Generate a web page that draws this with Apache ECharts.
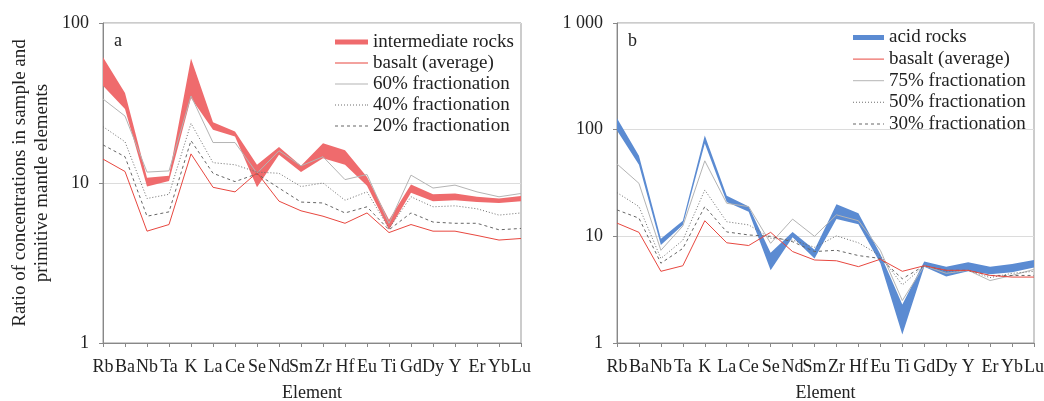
<!DOCTYPE html>
<html>
<head>
<meta charset="utf-8">
<script src="https://cdn.jsdelivr.net/npm/echarts@6.0.0/dist/echarts.min.js"></script>
<style>
html,body{margin:0;padding:0;background:#fff;}
#chart{width:1044px;height:401px;}
</style>
</head>
<body>
<div id="chart"></div>
<script>
// ---------- data ----------
const elements = ['Rb','Ba','Nb','Ta','K','La','Ce','Se','Nd','Sm','Zr','Hf','Eu','Ti','Gd','Dy','Y','Er','Yb','Lu'];

// panel a
const intermediateUpper = [61, 36.5, 10.8, 11.1, 60, 24, 21, 13, 16.8, 12.8, 17.7, 16, 10.9, 5.9, 9.8, 8.5, 8.6, 8.2, 8.0, 8.3];
const intermediateLower = [40.5, 29, 9.5, 10.3, 34, 21.5, 19.5, 9.4, 15, 11.7, 14.3, 13, 9.6, 5.1, 8.7, 7.7, 7.8, 7.6, 7.5, 7.7];
const basaltA = [14.1, 11.8, 5.0, 5.5, 15.2, 9.4, 8.8, 11.6, 7.7, 6.7, 6.2, 5.6, 6.5, 4.9, 5.5, 5.0, 5.0, 4.7, 4.4, 4.5];
const frac60 = [33.5, 26.2, 11.7, 11.9, 35, 17.9, 17.9, 11.5, 15.9, 12.8, 14.6, 10.5, 11.3, 5.6, 11.2, 9.3, 9.7, 8.8, 8.2, 8.6];
const frac40 = [22.5, 18.1, 8.0, 8.5, 23.6, 13.4, 13.0, 11.7, 11.5, 9.5, 10.0, 7.8, 8.8, 5.2, 8.2, 7.1, 7.2, 6.9, 6.3, 6.5];
const frac20 = [17.3, 14.6, 6.2, 6.6, 18.4, 11.5, 10.2, 11.4, 9.3, 7.6, 7.5, 6.5, 7.1, 5.1, 6.5, 5.7, 5.6, 5.6, 5.1, 5.2];

// panel b
const acidUpper = [128, 57, 9.5, 14, 88, 24, 19, 7, 11, 7.5, 20, 16.5, 6.8, 2.3, 5.8, 5.2, 5.7, 5.2, 5.5, 6.0];
const acidLower = [98, 47, 8.3, 12.8, 74, 21, 17, 4.8, 9.8, 6.2, 14.5, 13, 5.6, 1.2, 5.2, 4.2, 4.7, 4.4, 4.6, 5.1];
const basaltB = [13.3, 10.9, 4.7, 5.3, 14, 8.7, 8.2, 10.9, 7.2, 6.0, 5.9, 5.2, 6.1, 4.7, 5.3, 4.8, 4.8, 4.3, 4.15, 4.15];
const frac75 = [47.7, 31.4, 7.4, 12.5, 51, 20.4, 19, 8.6, 14.5, 10, 15.9, 14, 7.4, 2.5, 5.3, 4.5, 4.8, 3.85, 4.3, 4.9];
const frac50 = [25.7, 19, 6.2, 9.2, 27.2, 13.7, 12.8, 9.6, 9.2, 7.9, 10.1, 8.7, 6.6, 3.5, 5.3, 4.7, 4.8, 4.1, 4.5, 4.7];
const frac30 = [17.7, 14.8, 5.6, 7.7, 19, 11, 10.3, 10, 8.9, 7.2, 7.4, 6.6, 6.2, 4.0, 5.3, 4.8, 4.8, 4.3, 4.3, 4.3];

// ---------- styles ----------
const FONT = 'Liberation Serif';
const TXT = '#222';
const RED_BAND = '#ef6b6d';
const BLUE_BAND = '#5b8bd2';
const RED_LINE = '#e8473f';
const GRAY_SOLID = '#b4b4b4';
const GRAY_DOT = '#6e6e6e';
const GRAY_DASH = '#666666';
const AXIS = '#888';
const sGray = () => ({ color: GRAY_SOLID, type: 'solid', width: 1 });
const sDot = () => ({ color: GRAY_DOT, type: [1, 2], width: 1 });
const sDash = () => ({ color: GRAY_DASH, type: [3, 3], width: 1 });
const sBasalt = () => ({ color: RED_LINE, type: 'solid', width: 1 });

// legend icon paths (a horizontal stroke of given width/thickness, optionally dashed)
function iconPath(w, h, on, off) {
  let d = '';
  if (!on) {
    d = 'M0,0H' + w + 'V' + h + 'H0Z';
  } else {
    let x = 0;
    while (x < w) {
      const e = Math.min(x + on, w);
      d += 'M' + x + ',0H' + e + 'V' + h + 'H' + x + 'Z';
      x += on + off;
    }
    if (x - off < w) d += 'M' + (w - 1) + ',0H' + w + 'V' + h + 'H' + (w - 1) + 'Z';
  }
  return 'path://' + d;
}
function legItem(name, w, color, h, on, off) {
  return { name: name, icon: iconPath(w, h, on, off), itemStyle: { color: color, opacity: 1, borderWidth: 0 } };
}

function bandRender(upper, lower, color) {
  return function (params, api) {
    if (params.dataIndex !== 0) return null;
    const pts = [];
    for (let i = 0; i < upper.length; i++) pts.push(api.coord([i, upper[i]]));
    for (let i = lower.length - 1; i >= 0; i--) pts.push(api.coord([i, lower[i]]));
    return { type: 'polygon', shape: { points: pts }, style: { fill: color, stroke: null } };
  };
}

function xAx(gi) {
  return {
    type: 'category', gridIndex: gi, data: elements, boundaryGap: false,
    axisLine: { lineStyle: { color: AXIS } },
    axisTick: { show: true, length: 4, lineStyle: { color: AXIS } },
    axisLabel: { interval: 0, margin: 15, fontSize: 18, fontFamily: FONT, color: TXT },
    splitLine: { show: false },
    name: 'Element', nameLocation: 'middle', nameGap: 41,
    nameTextStyle: { fontSize: 18, fontFamily: FONT, color: TXT }
  };
}

function yAx(gi, max, extra) {
  return Object.assign({
    type: 'log', logBase: 10, gridIndex: gi, min: 1, max: max,
    axisLine: { show: true, lineStyle: { color: AXIS } },
    axisTick: { show: true, length: 4, lineStyle: { color: AXIS } },
    axisLabel: {
      margin: 14, fontSize: 18, fontFamily: FONT, color: TXT,
      formatter: v => (v >= 1000 ? String(v).replace(/\B(?=(\d{3})+(?!\d))/g, ' ') : String(v))
    },
    splitLine: { show: true, lineStyle: { color: '#dcdcdc' } },
    minorTick: { show: false }, minorSplitLine: { show: false }
  }, extra || {});
}

function line(name, data, gi, style, z) {
  return {
    type: 'line', name: name, xAxisIndex: gi, yAxisIndex: gi, data: data,
    symbol: 'none', silent: true, z: z || 3,
    color: style.color,
    lineStyle: style
  };
}

function legendBase() {
  return {
    orient: 'vertical', itemHeight: 13, selectedMode: false, symbolKeepAspect: true,
    textStyle: { fontSize: 19, lineHeight: 21, fontFamily: FONT, color: TXT }
  };
}

const option = {
  animation: false,
  backgroundColor: '#fff',
  grid: [
    { left: 103, right: 523, top: 23, bottom: 58, show: true, borderColor: '#999', borderWidth: 1, outerBoundsMode: 'none', containLabel: false },
    { left: 617, right: 10, top: 23, bottom: 58, show: true, borderColor: '#999', borderWidth: 1, outerBoundsMode: 'none', containLabel: false }
  ],
  xAxis: [xAx(0), xAx(1)],
  yAxis: [
    yAx(0, 100, {
      name: 'Ratio of concentrations in sample and\nprimitive mantle elements',
      nameLocation: 'middle', nameRotate: 90, nameGap: 50,
      nameTextStyle: { fontSize: 19, lineHeight: 22, fontFamily: FONT, color: TXT }
    }),
    yAx(1, 1000)
  ],
  legend: [
    Object.assign(legendBase(), {
      left: 330, top: 26.5, itemWidth: 33, itemGap: 0,
      data: [
        legItem('intermediate rocks', 33, RED_BAND, 5),
        legItem('basalt (average)', 33, RED_LINE, 1),
        legItem('60% fractionation', 33, GRAY_SOLID, 1),
        legItem('40% fractionation', 33, GRAY_DOT, 1, 1, 2),
        legItem('20% fractionation', 33, GRAY_DASH, 1, 3, 3)
      ]
    }),
    Object.assign(legendBase(), {
      left: 848, top: 22, itemWidth: 31, itemGap: 0.6,
      data: [
        legItem('acid rocks', 31, BLUE_BAND, 5),
        legItem('basalt (average) ', 31, RED_LINE, 1),
        legItem('75% fractionation', 31, GRAY_SOLID, 1),
        legItem('50% fractionation', 31, GRAY_DOT, 1, 1, 2),
        legItem('30% fractionation', 31, GRAY_DASH, 1, 3, 3)
      ]
    })
  ],
  graphic: [
    { type: 'text', left: 114, top: 32, style: { text: 'a', font: '18px "Liberation Serif"', fill: TXT } },
    { type: 'text', left: 628, top: 32, style: { text: 'b', font: '18px "Liberation Serif"', fill: TXT } }
  ],
  series: [
    // panel a
    {
      type: 'custom', name: 'intermediate band', xAxisIndex: 0, yAxisIndex: 0, silent: true, z: 1,
      renderItem: bandRender(intermediateUpper, intermediateLower, RED_BAND),
      data: elements.map((e, i) => [i, intermediateUpper[i], intermediateLower[i]]),
      encode: { x: 0, y: [1, 2] }
    },
    line('intermediate rocks', [], 0, { color: RED_BAND, type: 'solid', width: 5 }),
    line('60% fractionation', frac60, 0, sGray()),
    line('40% fractionation', frac40, 0, sDot()),
    line('20% fractionation', frac20, 0, sDash()),
    line('basalt (average)', basaltA, 0, sBasalt(), 4),
    // panel b
    {
      type: 'custom', name: 'acid band', xAxisIndex: 1, yAxisIndex: 1, silent: true, z: 1,
      renderItem: bandRender(acidUpper, acidLower, BLUE_BAND),
      data: elements.map((e, i) => [i, acidUpper[i], acidLower[i]]),
      encode: { x: 0, y: [1, 2] }
    },
    line('acid rocks', [], 1, { color: BLUE_BAND, type: 'solid', width: 5 }),
    line('75% fractionation', frac75, 1, sGray()),
    line('50% fractionation', frac50, 1, sDot()),
    line('30% fractionation', frac30, 1, sDash()),
    line('basalt (average) ', basaltB, 1, sBasalt(), 4)
  ]
};

const chart = echarts.init(document.getElementById('chart'), null, { renderer: 'canvas' });
chart.setOption(option);
</script>
</body>
</html>
